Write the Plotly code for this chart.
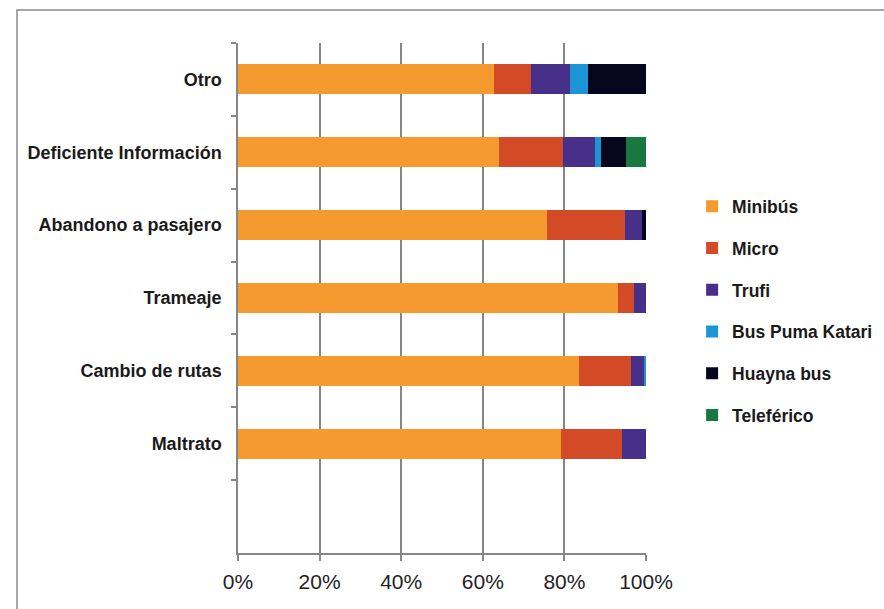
import plotly.graph_objects as go

categories = ["Maltrato", "Cambio de rutas", "Trameaje", "Abandono a pasajero",
              "Deficiente Información", "Otro"]
series_names = ["Minibús", "Micro", "Trufi", "Bus Puma Katari", "Huayna bus", "Teleférico"]
minibus = [79.2, 83.5, 93.2, 75.7, 64.0, 62.7]
micro = [15.0, 12.7, 3.9, 19.2, 15.7, 9.2]
trufi = [5.8, 3.3, 2.9, 4.2, 7.7, 9.5]
bus_puma = [0.0, 0.5, 0.0, 0.0, 1.6, 4.5]
huayna = [0.0, 0.0, 0.0, 0.9, 6.2, 14.1]
teleferico = [0.0, 0.0, 0.0, 0.0, 4.8, 0.0]
colors = ["#F59A2E", "#D24A26", "#46308A", "#1B95D6", "#06061E", "#17793F"]
x_ticks = [0, 20, 40, 60, 80, 100]
x_tick_labels = ["0%", "20%", "40%", "60%", "80%", "100%"]

series = [minibus, micro, trufi, bus_puma, huayna, teleferico]

fig = go.Figure()
for i, (name, vals, col) in enumerate(zip(series_names, series, colors)):
    fig.add_trace(go.Bar(
        y=categories, x=vals, name=name, orientation="h",
        marker=dict(color=col, line=dict(width=0)),
        legendgroup=f"g{i}",
    ))

label_font = "Liberation Sans, Arial, sans-serif"

fig.update_layout(
    width=884, height=609,
    margin=dict(l=238, r=238, t=43, b=56, autoexpand=False),
    paper_bgcolor="white", plot_bgcolor="white",
    barmode="stack", bargap=0.59,
    showlegend=True,
    legend=dict(
        x=1.113, xanchor="left", y=0.715, yanchor="top",
        traceorder="grouped", tracegroupgap=16,
        font=dict(family=label_font, size=17.5, color="#1a1a1a", weight="bold"),
        bgcolor="rgba(0,0,0,0)",
    ),
    xaxis=dict(
        range=[0, 100], tickvals=x_ticks, ticktext=x_tick_labels, automargin=False,
        showgrid=True, gridcolor="#868686", gridwidth=1.5,
        zeroline=False, showline=True, linecolor="#868686", linewidth=1.5,
        ticks="outside", ticklen=6, tickcolor="#868686", tickwidth=1.5,
        ticklabelstandoff=3,
        tickfont=dict(family="Liberation Sans, Arial, sans-serif", size=21, color="#222"),
    ),
    yaxis=dict(
        type="category", categoryorder="array", categoryarray=categories,
        range=[-1.5, 5.5], automargin=False,
        showline=True, linecolor="#868686", linewidth=1.5,
        ticks="outside", ticklen=5, tickcolor="#868686", tickwidth=1.5,
        tickson="boundaries", showgrid=False, ticklabelstandoff=11,
        tickfont=dict(family=label_font, size=18, color="#1a1a1a", weight="bold"),
    ),
    shapes=[dict(type="rect", xref="paper", yref="paper",
                 x0=(17 - 238) / 408, x1=(900 - 238) / 408,
                 y0=-0.3, y1=(553 - 10) / 510,
                 line=dict(color="#8a8a8a", width=1.5), fillcolor="rgba(0,0,0,0)",
                 layer="below")],
)

fig.write_html("out.html")
